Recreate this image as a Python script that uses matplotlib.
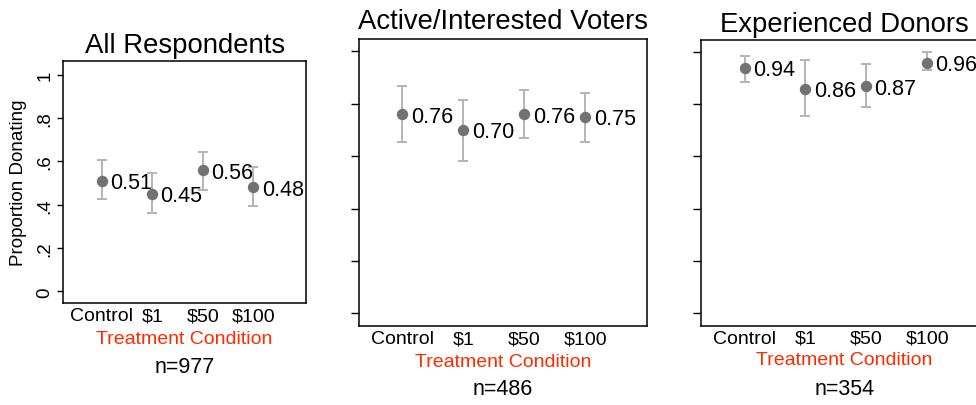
import matplotlib.pyplot as plt

plt.rcParams['font.family'] = ['Liberation Sans', 'DejaVu Sans']

W, H = 976, 406

conditions = ["Control", "$1", "$50", "$100"]
x_pos = [1, 2, 3, 4]

titles = ["All Respondents", "Active/Interested Voters", "Experienced Donors"]
sample_sizes = ["n=977", "n=486", "n=354"]

all_mean = [0.51, 0.45, 0.56, 0.48]
all_lo = [0.425, 0.361, 0.469, 0.395]
all_hi = [0.605, 0.546, 0.644, 0.574]

active_mean = [0.76, 0.70, 0.76, 0.75]
active_lo = [0.653, 0.581, 0.670, 0.655]
active_hi = [0.868, 0.815, 0.853, 0.842]

donor_mean = [0.94, 0.86, 0.87, 0.96]
donor_lo = [0.887, 0.757, 0.788, 0.932]
donor_hi = [0.985, 0.970, 0.955, 1.000]

y_ticks = [0, 0.2, 0.4, 0.6, 0.8, 1.0]
y_tick_labels = ["0", ".2", ".4", ".6", ".8", "1"]

DOT = "#727272"
BAR = "#b4b4b4"
RED = "#ff2a00"

# pixel boxes: left, top, right, bottom
boxes = [
    (63.3, 61.7, 306.0, 304.0),
    (359.3, 40.0, 646.7, 327.3),
    (701.0, 40.7, 988.0, 326.7),
]
xlims = [(0.24, 5.04), (0.295, 5.006), (0.284, 5.0)]
ylims = [(-0.054, 1.065), (-0.0496, 1.047), (-0.049, 1.048)]
title_base = [53.3, 29.3, 31.7]
xlabel_y = [339.0, 362.3, 360.7]
n_y = [368.0, 390.0, 389.3]

series = [
    (all_mean, all_lo, all_hi),
    (active_mean, active_lo, active_hi),
    (donor_mean, donor_lo, donor_hi),
]

fig = plt.figure(figsize=(W / 100, H / 100), dpi=100)


def fx(px):
    return px / W


def fy(py):
    return 1 - py / H


for i, (mean, lo, hi) in enumerate(series):
    l, t, r, b = boxes[i]
    ax = fig.add_axes([fx(l), fy(b), (r - l) / W, (b - t) / H])

    err = [[m - a for m, a in zip(mean, lo)], [c - m for m, c in zip(mean, hi)]]
    ax.errorbar(x_pos, mean, yerr=err, fmt="none", ecolor=BAR,
                elinewidth=1.4, capsize=3.6, capthick=1.4, zorder=2)
    ax.plot(x_pos, mean, "o", color=DOT, markersize=7.2, zorder=3)
    for xv, m in zip(x_pos, mean):
        ax.annotate(f"{m:.2f}", (xv, m), xytext=(6, -1.5),
                    textcoords="offset points", ha="left", va="center",
                    fontsize=15.5, annotation_clip=False)

    ax.set_xlim(*xlims[i])
    ax.set_ylim(*ylims[i])
    ax.set_xticks(x_pos)
    ax.set_xticklabels(conditions, fontsize=14)
    ax.tick_params(axis="x", length=0, pad=3)
    ax.set_yticks(y_ticks)
    if i == 0:
        ax.set_yticklabels(y_tick_labels, rotation=90, va="center",
                           fontsize=13.5)
        ax.tick_params(axis="y", length=4.3, width=1, pad=3)
    else:
        ax.set_yticklabels([])
        ax.tick_params(axis="y", length=5.5, width=1)
    for s in ax.spines.values():
        s.set_linewidth(1.1)

    cx = (l + r) / 2
    fig.text(fx(cx), fy(title_base[i]), titles[i], ha="center",
             va="baseline", fontsize=19.8)
    fig.text(fx(cx), fy(xlabel_y[i]), "Treatment Condition", color=RED,
             ha="center", va="center", fontsize=14)
    fig.text(fx(cx), fy(n_y[i]), sample_sizes[i], ha="center",
             va="center", fontsize=15.5)

fig.text(fx(19), fy(183), "Proportion Donating", rotation=90,
         ha="center", va="center", fontsize=13.5)

fig.savefig("out.png", dpi=100)
